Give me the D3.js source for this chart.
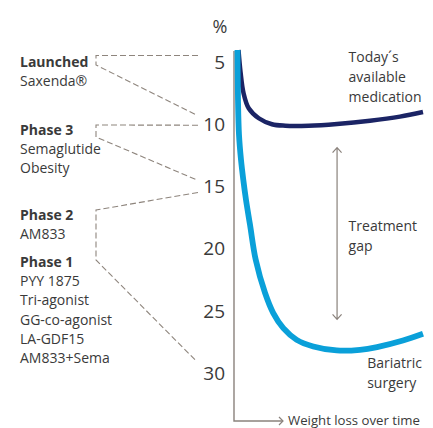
<!DOCTYPE html>
<html>
<head>
<meta charset="utf-8">
<script src="https://cdn.jsdelivr.net/npm/d3@7"></script>
<style>
  body { margin: 0; background: #fff; }
  text { font-family: "Open Sans", "Noto Sans", sans-serif; fill: #3a3a3a; }
</style>
</head>
<body>
<script>
// weight loss (%) over time (0-100)
var medTime = [0.8, 1.9, 3.5, 6.3, 11.7, 18.8, 26, 38.5, 53.8, 71.5, 87.6, 100];
var medLoss = [4.06, 5.83, 7.51, 8.74, 9.54, 10.02, 10.14, 10.14, 10.0, 9.74, 9.41, 9.04];

var surgTime = [0.27, 0.54, 1.08, 2.15, 3.39, 4.84, 7.0, 10.05, 15.05, 19.5, 24.9, 32.1, 41.0, 53.6, 66.1, 75.3, 89.2, 100];
var surgLoss = [4.06, 8.07, 10.88, 12.88, 14.49, 16.1, 18.1, 20.9, 23.56, 25.19, 26.4, 27.34, 27.87, 28.19, 28.14, 27.92, 27.39, 26.85];

var ticks = [5, 10, 15, 20, 25, 30];

var phaseTitles = ["Launched", "Phase 3", "Phase 2", "Phase 1"];
var phaseDrugs = [
  ["Saxenda®"],
  ["Semaglutide", "Obesity"],
  ["AM833"],
  ["PYY 1875", "Tri-agonist", "GG-co-agonist", "LA-GDF15", "AM833+Sema"]
];
// expected weight loss range each group points at
var rangeFrom = [4.5, 10.1, 15.5];
var rangeTo = [9.3, 14.5, 29.1];

var gapTime = 53.8, gapFrom = 11.9, gapTo = 25.7;

var width = 433, height = 428;

var svg = d3.select("body").append("svg")
    .attr("width", width)
    .attr("height", height);

var x = d3.scaleLinear().domain([0, 100]).range([237, 423]);
var y = d3.scaleLinear().domain([5, 30]).range([61.7, 373]);

var axisX = 234, axisTop = y(4.15), axisBottom = 421;

// axis
svg.append("path")
    .attr("d", "M" + axisX + "," + axisTop + "V" + axisBottom + "H" + 283)
    .attr("fill", "none")
    .attr("stroke", "#8a827c")
    .attr("stroke-width", 1.4);
svg.append("path")
    .attr("d", "M279,417L283,421L279,425")
    .attr("fill", "none")
    .attr("stroke", "#8a827c")
    .attr("stroke-width", 1.2);

svg.append("text")
    .attr("x", 288)
    .attr("y", 424.5)
    .style("font-size", "13.2px")
    .text("Weight loss over time");

svg.append("text")
    .attr("x", 220)
    .attr("y", 33)
    .attr("text-anchor", "middle")
    .style("font-size", "18px")
    .text("%");

svg.selectAll(".tick")
    .data(ticks)
  .enter().append("text")
    .attr("class", "tick")
    .attr("x", 225)
    .attr("y", function(d) { return y(d); })
    .attr("dy", "0.36em")
    .attr("text-anchor", "end")
    .style("font-size", "19px")
    .text(function(d) { return d; });

// lines
var line = d3.line()
    .x(function(d) { return x(d[0]); })
    .y(function(d) { return y(d[1]); })
    .curve(d3.curveCatmullRom.alpha(0.5));

svg.append("path")
    .datum(d3.zip(medTime, medLoss))
    .attr("d", line)
    .attr("fill", "none")
    .attr("stroke", "#1b2465")
    .attr("stroke-width", 4.5);

svg.append("path")
    .datum(d3.zip(surgTime, surgLoss))
    .attr("d", line)
    .attr("fill", "none")
    .attr("stroke", "#0aa0d9")
    .attr("stroke-width", 5.8);

// treatment gap arrow
var gx = x(gapTime), g1 = y(gapFrom), g2 = y(gapTo);
svg.append("path")
    .attr("d", "M" + gx + "," + g1 + "V" + g2 +
      "M" + (gx - 4.5) + "," + (g1 + 5) + "L" + gx + "," + g1 + "L" + (gx + 4.5) + "," + (g1 + 5) +
      "M" + (gx - 4.5) + "," + (g2 - 5) + "L" + gx + "," + g2 + "L" + (gx + 4.5) + "," + (g2 - 5))
    .attr("fill", "none")
    .attr("stroke", "#8a827c")
    .attr("stroke-width", 1.2);

function block(lines, tx, ty) {
  var t = svg.append("text").style("font-size", "14px");
  lines.forEach(function(s, i) {
    t.append("tspan").attr("x", tx).attr("y", ty + i * 20).text(s);
  });
}
block(["Today\u00b4s", "available", "medication"], x(60), 62);
block(["Treatment", "gap"], x(60), 231);
block(["Bariatric", "surgery"], x(70), 368);

// phase labels
var titleY = [67, 135, 220, 267];
phaseTitles.forEach(function(title, i) {
  var t = svg.append("text").style("font-size", "14px");
  t.append("tspan").attr("x", 20).attr("y", titleY[i])
      .style("font-weight", "bold").text(title);
  phaseDrugs[i].forEach(function(s, j) {
    t.append("tspan").attr("x", 20).attr("y", titleY[i] + (j + 1) * 19.2).text(s);
  });
});

// dashed connectors: label bracket -> range on the % scale
var bracketTop = [55.5, 125, 210], bracketBottom = [65, 137, 260];
var left = 96, right = 198;
rangeFrom.forEach(function(v, i) {
  svg.append("path")
      .attr("d", "M" + right + "," + y(v) + "L" + left + "," + bracketTop[i] +
        "V" + bracketBottom[i] + "L" + (right - 1) + "," + y(rangeTo[i]))
      .attr("fill", "none")
      .attr("stroke", "#8e857d")
      .attr("stroke-width", 1.1)
      .attr("stroke-dasharray", "6,3");
});
</script>
</body>
</html>
